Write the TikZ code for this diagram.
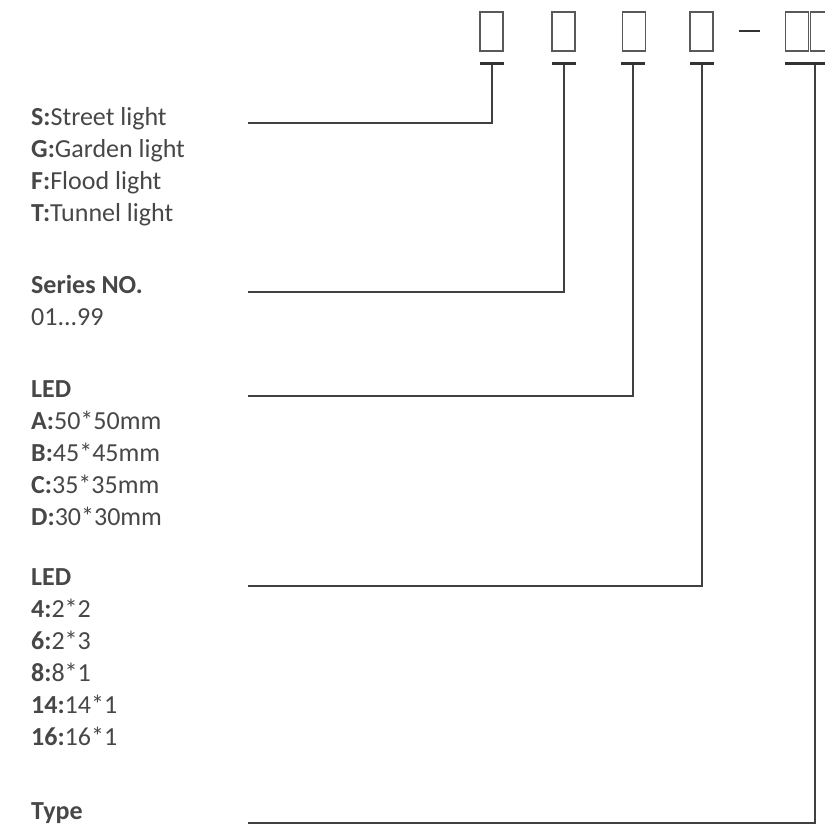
\documentclass[tikz,border=0pt]{standalone}
\usepackage{fontspec}
\setmainfont{Carlito}
\usepackage{tikz}
\tikzset{
  code/.style={
    draw=black!65, line width=1.8pt, rectangle, inner sep=0pt,
    minimum width=23pt, minimum height=39pt
  },
  bar/.style={
    fill=black!80, rectangle, inner sep=0pt,
    minimum width=24pt, minimum height=3pt
  },
  lead/.style={draw=black!75, line width=1.6pt},
  legend/.style={
    anchor=base west, align=left, inner sep=0pt, text=black!72,
    font=\fontsize{26}{32}\selectfont
  },
}

\begin{document}
\begin{tikzpicture}[x=1pt, y=-1pt]
  \clip (0,0) rectangle (825,831);
  % code boxes
  \node[code] (b1) at (491.5,31.5) {};
  \node[code] (b2) at (563.5,31.5) {};
  \node[code] (b3) at (634,31.5) {};
  \node[code] (b4) at (701.5,31.5) {};
  \node[bar, minimum width=21pt, minimum height=2.5pt] (dash) at (749.5,31) {};
  \node[code] (b5) at (797,31.5) {};
  \node[code] (b6) at (822,31.5) {};
  % bars under the boxes
  \node[bar] (bar1) at (492,63) {};
  \node[bar] (bar2) at (564,63) {};
  \node[bar] (bar3) at (633,63) {};
  \node[bar] (bar4) at (702,63) {};
  \node[bar, minimum width=60pt] (bar5) at (815,63) {};
  % legends (placed by the baseline of their last line)
  \node[legend] (kind) at (31,221)
    {\textbf{S:}Street light\\\textbf{G:}Garden light\\\textbf{F:}Flood light\\\textbf{T:}Tunnel light};
  \node[legend] (series) at (31,325) {\textbf{Series NO.}\\01...99};
  \node[legend] (chip) at (31,525)
    {\textbf{LED}\\\textbf{A:}50*50mm\\\textbf{B:}45*45mm\\\textbf{C:}35*35mm\\\textbf{D:}30*30mm};
  \node[legend] (count) at (31,745)
    {\textbf{LED}\\\textbf{4:}2*2\\\textbf{6:}2*3\\\textbf{8:}8*1\\\textbf{14:}14*1\\\textbf{16:}16*1};
  \node[legend] (type) at (31,819) {\textbf{Type}};
  % leads
  \coordinate (s1) at (248,123);
  \coordinate (s2) at (248,292);
  \coordinate (s3) at (248,396);
  \coordinate (s4) at (248,586);
  \coordinate (s5) at (248,823);
  \draw[lead] (s1) -| (bar1.south);
  \draw[lead] (s2) -| (bar2.south);
  \draw[lead] (s3) -| (bar3.south);
  \draw[lead] (s4) -| (bar4.south);
  \draw[lead] (s5) -| (bar5.south);
\end{tikzpicture}
\end{document}
